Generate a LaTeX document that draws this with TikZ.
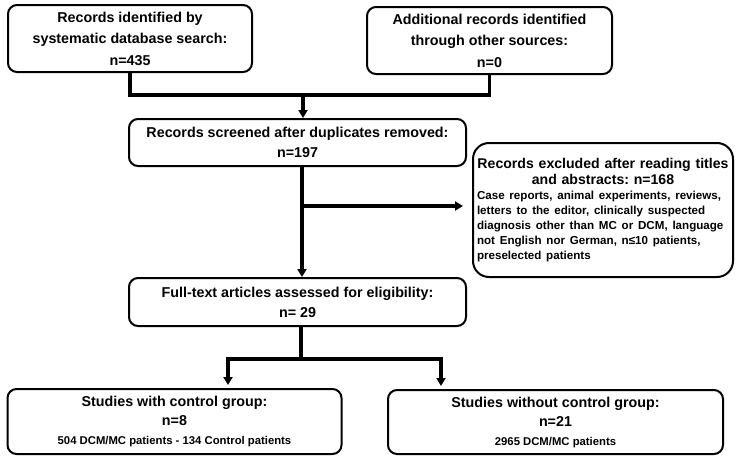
\documentclass[tikz,border=0pt]{standalone}
\usepackage{fontspec}
\setmainfont{Liberation Sans}
\usetikzlibrary{arrows.meta}
\frenchspacing
\begin{document}
\begin{tikzpicture}[x=1pt,y=-1pt,
  box/.style={draw, line width=2pt, rounded corners=9pt, align=center, inner sep=0pt,
    font=\bfseries\fontsize{14.3}{21.5}\selectfont},
  conn/.style={line width=3.2pt},
  arr/.style={line width=3.2pt, -{Triangle[length=8pt,width=9pt]}}]
\useasboundingbox (0,0) rectangle (740,471);
\node[box, minimum width=244pt, minimum height=67pt] (b1) at (130,38.5)
  {Records identified by\\ systematic database search:\\ n=435};
\node[box, minimum width=245pt, minimum height=67pt] (b2) at (489.5,40.5)
  {Additional records identified\\ through other sources:\\ n=0};
\node[box, minimum width=337pt, minimum height=47pt, font=\bfseries\fontsize{14.3}{20}\selectfont] (b3) at (297.5,142.5)
  {Records screened after duplicates removed:\\ n=197};
\node[box, minimum width=260pt, minimum height=134pt, rounded corners=16pt, text width=252pt, align=left] (ex) at (603,210)
  {{\centering\fontsize{14.1}{16.5}\selectfont Records excluded after reading titles\\ and abstracts: n=168\par}
   {\fontsize{11.6}{15}\selectfont Case reports, animal experiments, reviews,\\ letters to the editor, clinically suspected\\ diagnosis other than MC or DCM, language\\ not English nor German, n≤10 patients,\\ preselected patients\par}};
\node[box, minimum width=337pt, minimum height=48pt, font=\bfseries\fontsize{14.3}{20}\selectfont] (b4) at (297.5,302)
  {Full-text articles assessed for eligibility:\\ n= 29};
\node[box, minimum width=334pt, minimum height=65pt, font=\bfseries\fontsize{14.3}{19}\selectfont] (b5) at (174.5,421.5)
  {Studies with control group:\\ n=8\\ {\fontsize{11.3}{19}\selectfont 504 DCM/MC patients - 134 Control patients}};
\node[box, minimum width=335pt, minimum height=64pt, font=\bfseries\fontsize{14.3}{19}\selectfont] (b6) at (555.5,422)
  {Studies without control group:\\ n=21\\ {\fontsize{11.3}{19}\selectfont 2965 DCM/MC patients}};
\coordinate (j1) at (303,95);
\coordinate (j2) at (302,206);
\coordinate (j3) at (301,359);
\coordinate (l) at (228,359);
\coordinate (r) at (441,359);
\draw[conn] (b1.south) |- (j1) -| (b2.south);
\draw[arr] (j1) -- (j1 |- b3.north);
\draw[arr] (b3.south -| j2) -- (b4.north -| j2);
\draw[arr, shorten >=9pt] (j2) -- (j2 -| ex.west);
\draw[conn] (b4.south -| j3) -- (j3);
\draw[conn] ([xshift=-1.6pt]l) -- ([xshift=1.6pt]r);
\draw[arr, shorten >=3pt] (l) -- (l |- b5.north);
\draw[arr, shorten >=3pt] (r) -- (r |- b6.north);
\end{tikzpicture}
\end{document}
